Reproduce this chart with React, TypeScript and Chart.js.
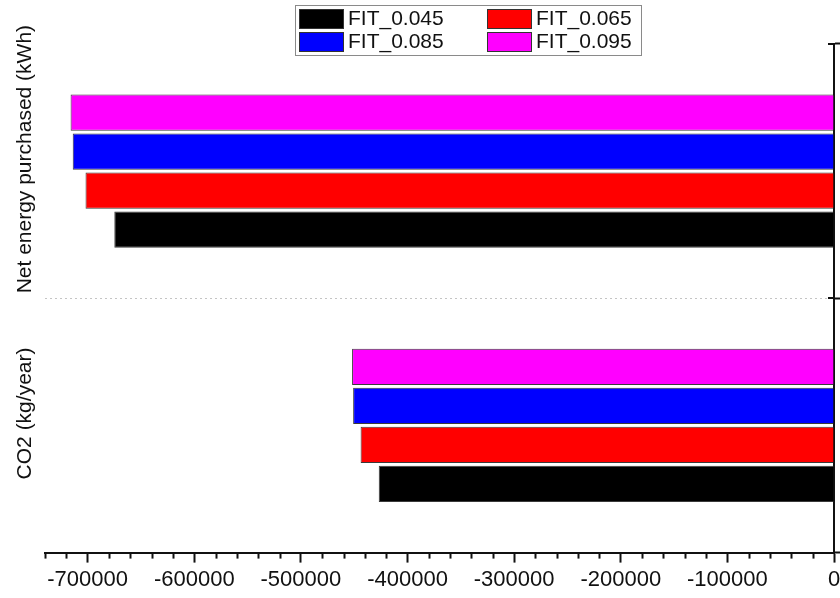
import React, { useEffect, useRef } from 'react';
import { Chart, registerables } from 'chart.js';

Chart.register(...registerables);

const categories = ['Net energy purchased (kWh)', 'CO2 (kg/year)'];
const seriesLabels = ['FIT_0.045', 'FIT_0.065', 'FIT_0.085', 'FIT_0.095'];
const seriesColors = ['#000000', '#ff0000', '#0000ff', '#ff00ff'];
const fit045 = [-675000, -427000];
const fit065 = [-702000, -444000];
const fit085 = [-714000, -451000];
const fit095 = [-716000, -452000];
const seriesValues = [fit045, fit065, fit085, fit095];
const xTickValues = [-700000, -600000, -500000, -400000, -300000, -200000, -100000, 0];
const xMin = -740000;
const xMax = 0;
const majorStep = 100000;
const minorStep = 20000;

const FONT = "'Liberation Sans', Arial, sans-serif";

const decorPlugin = {
  id: 'decor',
  afterDraw(chart: any) {
    const ctx = chart.ctx;
    const area = chart.chartArea;
    const xs = chart.scales.x;
    const ys = chart.scales.y;
    ctx.save();
    // minor ticks on x axis
    ctx.strokeStyle = '#111';
    ctx.lineWidth = 2;
    for (let v = xMin; v <= xMax; v += minorStep) {
      if (v % majorStep === 0) continue;
      const px = Math.round(xs.getPixelForValue(v)) + 0.5;
      ctx.beginPath();
      ctx.moveTo(px, area.bottom);
      ctx.lineTo(px, area.bottom + 6);
      ctx.stroke();
    }
    // inward part of right axis ticks
    const bounds = [area.top, (ys.getPixelForTick(0) + ys.getPixelForTick(1)) / 2];
    bounds.forEach((y) => {
      ctx.beginPath();
      ctx.moveTo(area.right - 6, Math.round(y));
      ctx.lineTo(area.right, Math.round(y));
      ctx.stroke();
    });
    // category labels on the left
    ctx.fillStyle = '#111';
    ctx.font = `21px ${FONT}`;
    ctx.textAlign = 'center';
    ctx.textBaseline = 'middle';
    categories.forEach((c, i) => {
      const y = ys.getPixelForTick(i) - 12;
      ctx.save();
      ctx.translate(25, y);
      ctx.rotate(-Math.PI / 2);
      ctx.fillText(c, 0, 0);
      ctx.restore();
    });
    // legend
    ctx.fillStyle = '#ffffff';
    ctx.fillRect(295.5, 5.5, 346, 50);
    ctx.strokeStyle = '#8a8a8a';
    ctx.lineWidth = 1;
    ctx.strokeRect(295.5, 5.5, 346, 50);
    seriesLabels.forEach((lab, i) => {
      const col = i % 2;
      const row = Math.floor(i / 2);
      const sx = col === 0 ? 299 : 487;
      const sy = row === 0 ? 9 : 32;
      ctx.fillStyle = seriesColors[i];
      ctx.fillRect(sx, sy, 45, 20);
      ctx.strokeStyle = '#333';
      ctx.strokeRect(sx + 0.5, sy + 0.5, 44, 19);
      ctx.fillStyle = '#111';
      ctx.textAlign = 'left';
      ctx.textBaseline = 'middle';
      ctx.font = `21px ${FONT}`;
      ctx.fillText(lab, sx + 49, sy + 10.5);
    });
    ctx.restore();
  },
};

export default function App() {
  const ref = useRef<HTMLCanvasElement | null>(null);
  useEffect(() => {
    if (!ref.current) return;
    const order = [3, 2, 1, 0];
    const chart = new Chart(ref.current, {
      type: 'bar',
      data: {
        labels: categories,
        datasets: order.map((i) => ({
          label: seriesLabels[i],
          data: seriesValues[i],
          backgroundColor: seriesColors[i],
          borderColor: '#3a3a3a',
          borderWidth: 1,
          categoryPercentage: 0.613,
          barPercentage: 0.93,
        })),
      },
      options: {
        indexAxis: 'y',
        animation: false,
        responsive: true,
        maintainAspectRatio: false,
        layout: { padding: { left: 45, top: 44, right: 0, bottom: 1 } },
        plugins: { legend: { display: false }, tooltip: { enabled: false } },
        scales: {
          x: {
            type: 'linear',
            min: xMin,
            max: xMax,
            afterBuildTicks: (s: any) => {
              s.ticks = xTickValues.map((v) => ({ value: v }));
            },
            afterFit: (s: any) => {
              s.paddingRight = 0;
            },
            ticks: {
              autoSkip: false,
              maxRotation: 0,
              minRotation: 0,
              padding: 4,
              color: '#111',
              font: { family: FONT, size: 22 },
              callback: (v: any) => String(v),
            },
            grid: {
              drawOnChartArea: false,
              drawTicks: true,
              tickLength: 10,
              tickWidth: 2,
              tickColor: '#111',
            },
            border: { display: true, color: '#111', width: 2 },
          },
          y: {
            type: 'category',
            position: 'right',
            offset: true,
            ticks: { display: false },
            grid: {
              offset: true,
              drawOnChartArea: true,
              drawTicks: true,
              tickLength: 6,
              tickWidth: 2,
              tickColor: '#111',
              color: (c: any) => (c.index === 1 ? '#c4c4c4' : 'rgba(0,0,0,0)'),
              lineWidth: 1,
            },
            border: { display: true, color: '#111', width: 2, dash: [2, 3] },
          },
        },
      },
      plugins: [decorPlugin],
    });
    return () => chart.destroy();
  }, []);
  return (
    <div style={{ position: 'fixed', left: 0, top: 0, width: 840, height: 598, background: '#fff' }}>
      <canvas ref={ref} />
    </div>
  );
}
